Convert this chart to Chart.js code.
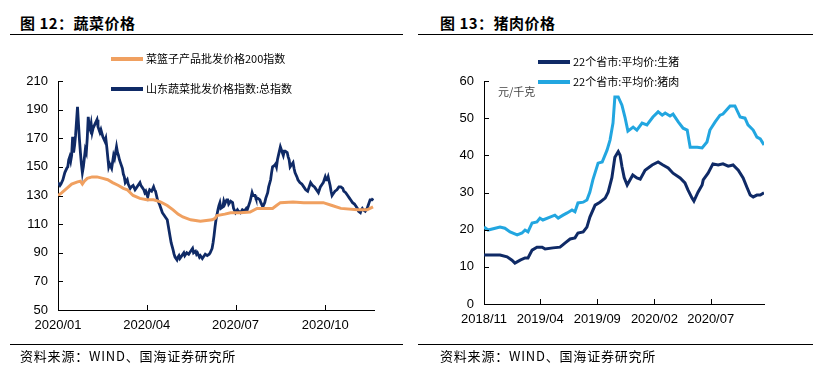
<!DOCTYPE html>
<html>
<head>
<meta charset="utf-8">
<script src="https://cdn.jsdelivr.net/npm/chart.js@4.4.1/dist/chart.umd.min.js"></script>
<style>
body{margin:0;background:#fff;width:826px;height:374px;position:relative;overflow:hidden;font-family:"Noto Sans CJK SC",sans-serif;color:#000}
canvas{position:absolute;top:0}
.title{position:absolute;top:14px;font-size:15px;line-height:18px;font-weight:bold;white-space:nowrap;letter-spacing:0.5px}
.src{position:absolute;top:348px;font-size:13px;line-height:16px;white-space:nowrap;letter-spacing:0.8px}
.rule{position:absolute;height:0;border-top:1.5px solid #000}
.leg{position:absolute;font-size:11px;line-height:14px;white-space:nowrap}
.leg i{display:inline-block;width:32px;height:4px;vertical-align:middle;margin-right:3px;position:relative;top:-1px}
.unit{position:absolute;left:498px;top:84px;font-size:11px;line-height:14px;color:#444}
</style>
</head>
<body>
<div class="title" style="left:20px">图 12：蔬菜价格</div>
<div class="rule" style="left:10px;width:393px;top:34px"></div>
<div class="title" style="left:440px">图 13：猪肉价格</div>
<div class="rule" style="left:418px;width:395px;top:34px"></div>

<canvas id="veg" width="413" height="374" style="left:0"></canvas>
<canvas id="pork" width="413" height="374" style="left:413px"></canvas>

<div class="unit">元/千克</div>

<div class="rule" style="left:10px;width:393px;top:344px"></div>
<div class="src" style="left:20px">资料来源：WIND、国海证券研究所</div>
<div class="rule" style="left:418px;width:395px;top:344px"></div>
<div class="src" style="left:440px">资料来源：WIND、国海证券研究所</div>

<script>
// ---- 图12 蔬菜价格 (x = days since 2020-01-01)
const vegNames = ['菜篮子产品批发价格200指数', '山东蔬菜批发价格指数:总指数'];
const vegColors = ['#F0A060', '#0F2A66'];
const vegTickDays = [0, 91, 182, 274];
const vegTickLabels = ['2020/01', '2020/04', '2020/07', '2020/10'];

const basketDays = [0,4,9,14,20,23,25,27,30,35,40,46,51,56,62,67,71,77,84,91,98,105,112,118,123,128,136,146,158,161,163,171,177,187,197,204,213,220,224,228,241,252,272,281,290,307,317,323];
const basketVals = [130,132,135,138,139.5,140,138,140,142,143,143,142,141,139,137,135,134,130,128,127,127,125.5,123,120,117,115,113,112,113,114,116,117,118,118,118.5,121,121,121,123,125,125.5,125,125,123,121,120,120,122];

const sdDays = [0,2,3,5,7,9,10,11,12,13,14,15,16,17,18,20,21,22,23,24,25,26,27,28,29,30,31,32,33,34,35,36,38,40,41,43,44,46,48,49,50,51,52,53,55,57,58,60,61,62,63,64,66,67,68,69,71,72,74,75,77,79,80,82,84,85,86,88,89,90,92,93,94,96,98,99,100,101,102,104,105,106,107,109,110,112,113,115,116,118,119,120,122,123,124,125,127,129,130,132,134,136,137,138,139,141,142,143,145,146,148,149,151,153,155,156,158,159,160,161,162,164,165,166,167,169,170,171,173,174,175,177,179,180,182,184,185,187,189,191,193,194,196,197,199,200,202,203,205,207,208,210,212,213,215,216,218,219,220,222,223,224,225,226,228,229,230,231,232,233,235,236,237,238,240,241,242,243,245,246,248,250,252,254,256,257,259,260,261,263,264,266,267,268,269,271,272,273,274,275,276,277,278,279,280,281,282,284,286,288,290,292,293,295,297,299,300,302,304,305,307,308,310,311,312,313,315,316,317,318,319,320,322,323];
const sdVals = [139,137,138,141,146,149,150,155,157,154,158,171,160,165,172,192,180,169,160,152,146,150,156,162,160,170,185,178,176,180,174,177,180,183,178,174,176,171,168,170,164,157,150,152,149,158,156,164,160,158,155,153,149,145,143,139,141,138,135,136,137,134,135,137,139,137,136,134,132,133,129,132,134,133,136,134,133,130,127,124,122,120,118,116,115,113,109,101,97,92,89,87,85,87,88,86,88,90,88,90,89,91,92,93,90,91,89,90,87,88,86,87,89,88,89,90,93,97,102,108,113,120,123,125,121,122,126,124,127,127,124,126,125,121,118,120,119,118,120,119,121,120,124,126,132,130,130,128,128,127,125,122,125,128,132,136,141,146,150,151,152,150,155,158,164,162,160,158,161,161,160,157,155,150,152,153,149,146,143,141,139,138,136,134,133,135,139,138,137,136,135,133,132,134,136,138,139,141,143,141,141,143,140,137,133,130,131,133,134,136,136,135,133,132,130,128,127,125,124,123,121,119,118,120,121,120,119,120,121,123,125,127,127,128];

const vegYTicks = {min: 50, max: 210, step: 20};

// ---- 图13 猪肉价格 (x = days since 2018-11-01)
const porkNames = ['22个省市:平均价:生猪', '22个省市:平均价:猪肉'];
const porkColors = ['#0F2A66', '#22A6E0'];
const porkTickDays = [0, 151, 304, 457, 608];
const porkTickLabels = ['2018/11', '2019/04', '2019/09', '2020/02', '2020/07'];

const hogDays = [0,24,43,62,75,83,97,110,118,129,142,156,164,185,204,217,231,244,252,266,276,284,298,311,325,333,343,351,360,365,370,376,384,399,410,419,432,451,467,480,494,507,526,539,547,558,563,574,585,588,601,614,628,641,655,668,682,695,706,714,722,732,741,751];
const hogVals = [13.2,13.2,13.2,12.7,11.8,11.0,11.8,12.4,12.4,14.5,15.3,15.3,14.8,15.1,15.3,16.4,17.5,17.8,19.1,19.4,20.7,23.4,26.6,27.4,28.5,30.1,34,39.5,41,40,37,34,32,34.7,33.9,33.6,36,37.4,38.2,37.4,36.6,35.2,33.9,32.6,30.7,28.5,27.7,30.1,32.0,33.4,35.2,37.7,37.4,37.7,37.1,37.4,36,33.9,31.2,29.3,28.8,29.3,29.3,29.9];

const porkDays = [0,11,30,43,56,70,89,102,110,118,129,142,150,158,177,190,199,212,223,236,244,252,266,276,284,292,306,317,330,338,346,351,360,370,378,386,400,410,424,437,453,467,478,486,499,507,521,534,545,553,572,585,598,606,620,633,641,660,673,687,700,708,722,732,741,751];
const porkVals = [20.7,19.9,20.4,20.7,20.4,19.4,18.6,19.1,19.9,19.4,21.8,22.1,23.1,22.6,23.4,23.9,23.1,23.9,24.5,25.3,24.8,27.2,27.4,28,30.1,33.4,37.9,38.2,41.4,44.1,48.7,55.7,55.7,53.5,50.3,46.5,47.6,46.8,48.7,48.2,50.3,51.7,50.8,51.4,50.6,51.1,49,47.3,46.8,42.2,42.2,42,43.6,46.8,49,50.8,51.1,53.3,53.3,50.3,50,48.2,46.8,44.9,44.4,42.8];

const porkYTicks = {min: 0, max: 60, step: 10};

function pts(days, vals){
    return days.map((d, i) => ({x: d, y: vals[i]}));
}

// tick marks drawn inward, like the source chart
const innerTicks = {
    id: 'innerTicks',
    afterDraw(chart){
        const ctx = chart.ctx, a = chart.chartArea;
        ctx.save();
        ctx.strokeStyle = '#000';
        ctx.lineWidth = 1;
        chart.scales.x.ticks.forEach(t => {
            const px = Math.round(chart.scales.x.getPixelForValue(t.value)) + 0.5;
            ctx.beginPath(); ctx.moveTo(px, a.bottom); ctx.lineTo(px, a.bottom - 5); ctx.stroke();
        });
        chart.scales.y.ticks.forEach(t => {
            const py = Math.round(chart.scales.y.getPixelForValue(t.value)) + 0.5;
            ctx.beginPath(); ctx.moveTo(a.left, py); ctx.lineTo(a.left + 5, py); ctx.stroke();
        });
        ctx.restore();
    }
};

function makeChart(id, sets, tickDays, tickLabels, xMax, yt, box){
    const tickFont = {family: '"Liberation Sans", Arial, sans-serif', size: 13};
    return new Chart(document.getElementById(id).getContext('2d'), {
        type: 'line',
        data: {
            datasets: sets.map(s => ({
                label: s.label,
                data: s.data,
                borderColor: s.color,
                borderWidth: s.width,
                pointRadius: 0,
                tension: 0,
                fill: false
            }))
        },
        options: {
            responsive: false,
            animation: false,
            layout: {padding: {left: 0, top: box.top, right: box.right, bottom: box.bottom}},
            plugins: {legend: {display: false}, tooltip: {enabled: false}},
            scales: {
                x: {
                    type: 'linear',
                    min: 0,
                    max: xMax,
                    afterBuildTicks: scale => { scale.ticks = tickDays.map(v => ({value: v})); },
                    afterFit: scale => { scale.height = 30; },
                    ticks: {
                        autoSkip: false,
                        maxRotation: 0,
                        padding: 8,
                        color: '#000',
                        font: tickFont,
                        callback: (v, i) => tickLabels[i]
                    },
                    grid: {drawOnChartArea: false, drawTicks: false},
                    border: {color: '#000', width: 1}
                },
                y: {
                    min: yt.min,
                    max: yt.max,
                    afterFit: scale => { scale.width = box.left; },
                    ticks: {stepSize: yt.step, padding: 10, color: '#000', font: tickFont},
                    grid: {drawOnChartArea: false, drawTicks: false},
                    border: {color: '#000', width: 1}
                }
            }
        },
        plugins: [innerTicks]
    });
}

makeChart('veg', [
    {label: vegNames[0], data: pts(basketDays, basketVals), color: vegColors[0], width: 3},
    {label: vegNames[1], data: pts(sdDays, sdVals), color: vegColors[1], width: 2.8}
], vegTickDays, vegTickLabels, 324, vegYTicks, {left: 58, top: 81, right: 39, bottom: 34});

makeChart('pork', [
    {label: porkNames[0], data: pts(hogDays, hogVals), color: porkColors[0], width: 3},
    {label: porkNames[1], data: pts(porkDays, porkVals), color: porkColors[1], width: 3}
], porkTickDays, porkTickLabels, 751, porkYTicks, {left: 71, top: 81, right: 62, bottom: 40});

// legends as html text
function legend(names, colors, x, ys){
    names.forEach((n, i) => {
        const d = document.createElement('div');
        d.className = 'leg';
        d.style.left = x + 'px';
        d.style.top = (ys[i] - 7) + 'px';
        d.innerHTML = '<i style="background:' + colors[i] + '"></i>' + n;
        document.body.appendChild(d);
    });
}
legend(vegNames, vegColors, 111, [58, 88]);
legend(porkNames, porkColors, 538, [61, 81]);
</script>
</body>
</html>
